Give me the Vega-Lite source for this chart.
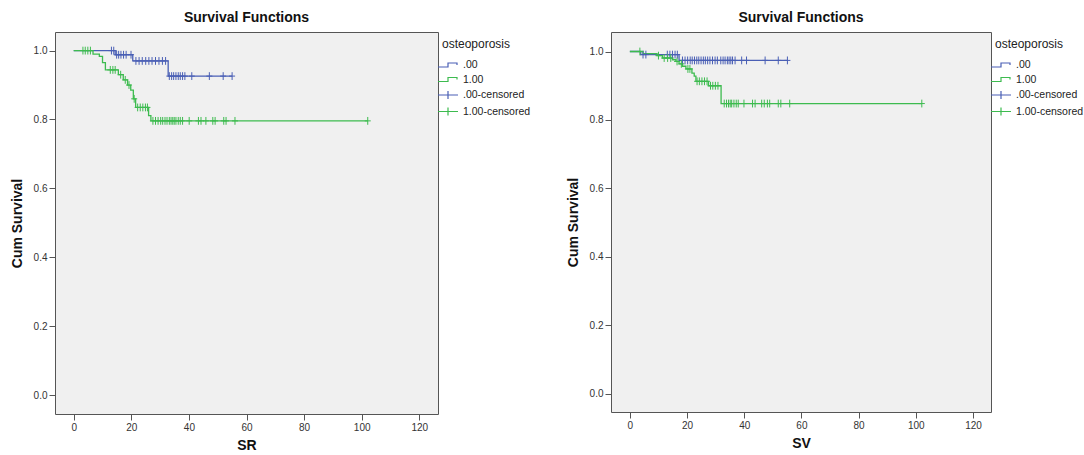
{
  "$schema": "https://vega.github.io/schema/vega-lite/v6.json",
  "padding": {"left": 9, "top": 10, "right": 0, "bottom": 5},
  "background": "white",
  "config": {
    "font": "Liberation Sans",
    "view": {"fill": "#f0f0f0", "stroke": "#555555", "strokeWidth": 1},
    "axis": {"domain": false, "grid": false, "tickColor": "#555555", "tickSize": 6, "labelPadding": 2, "labelColor": "#333333", "labelFont": "Liberation Sans", "labelFontSize": 10, "titleFont": "Liberation Sans", "titleFontSize": 14, "titleFontWeight": "bold", "titleColor": "#111111"},
    "title": {"font": "Liberation Sans", "fontSize": 14, "fontWeight": "bold", "color": "#111111", "offset": 7, "anchor": "middle"},
    "legend": {"titleFont": "Liberation Sans", "titleFontSize": 12, "titleFontWeight": "normal", "titleColor": "#222222", "labelFont": "Liberation Sans", "labelFontSize": 10.5, "labelColor": "#222222", "symbolSize": 100, "labelOffset": 9, "rowPadding": 2.5, "titlePadding": 8, "padding": 7, "offset": -3}
  },
  "datasets": {
    "km": [
      {"panel": "SR", "series": ".00", "t": 0, "s": 1.0},
      {"panel": "SR", "series": ".00", "t": 14.4, "s": 0.988},
      {"panel": "SR", "series": ".00", "t": 20.5, "s": 0.970},
      {"panel": "SR", "series": ".00", "t": 32.8, "s": 0.926},
      {"panel": "SR", "series": ".00", "t": 55.0, "s": 0.926},
      {"panel": "SR", "series": "1.00", "t": 0, "s": 1.0},
      {"panel": "SR", "series": "1.00", "t": 6.7, "s": 0.990},
      {"panel": "SR", "series": "1.00", "t": 8.9, "s": 0.983},
      {"panel": "SR", "series": "1.00", "t": 10.0, "s": 0.965},
      {"panel": "SR", "series": "1.00", "t": 11.0, "s": 0.944},
      {"panel": "SR", "series": "1.00", "t": 15.5, "s": 0.930},
      {"panel": "SR", "series": "1.00", "t": 17.2, "s": 0.915},
      {"panel": "SR", "series": "1.00", "t": 18.7, "s": 0.900},
      {"panel": "SR", "series": "1.00", "t": 19.8, "s": 0.885},
      {"panel": "SR", "series": "1.00", "t": 20.7, "s": 0.860},
      {"panel": "SR", "series": "1.00", "t": 21.5, "s": 0.835},
      {"panel": "SR", "series": "1.00", "t": 26.0, "s": 0.811},
      {"panel": "SR", "series": "1.00", "t": 26.8, "s": 0.796},
      {"panel": "SR", "series": "1.00", "t": 102.1, "s": 0.796},
      {"panel": "SV", "series": ".00", "t": 0, "s": 1.0},
      {"panel": "SV", "series": ".00", "t": 3.8, "s": 0.991},
      {"panel": "SV", "series": ".00", "t": 17.2, "s": 0.974},
      {"panel": "SV", "series": ".00", "t": 55.1, "s": 0.974},
      {"panel": "SV", "series": "1.00", "t": 0, "s": 1.0},
      {"panel": "SV", "series": "1.00", "t": 4.6, "s": 0.994},
      {"panel": "SV", "series": "1.00", "t": 9.5, "s": 0.988},
      {"panel": "SV", "series": "1.00", "t": 11.4, "s": 0.981},
      {"panel": "SV", "series": "1.00", "t": 14.9, "s": 0.976},
      {"panel": "SV", "series": "1.00", "t": 16.1, "s": 0.971},
      {"panel": "SV", "series": "1.00", "t": 17.2, "s": 0.964},
      {"panel": "SV", "series": "1.00", "t": 18.4, "s": 0.957},
      {"panel": "SV", "series": "1.00", "t": 19.6, "s": 0.949},
      {"panel": "SV", "series": "1.00", "t": 21.7, "s": 0.937},
      {"panel": "SV", "series": "1.00", "t": 22.5, "s": 0.928},
      {"panel": "SV", "series": "1.00", "t": 23.1, "s": 0.913},
      {"panel": "SV", "series": "1.00", "t": 27.5, "s": 0.900},
      {"panel": "SV", "series": "1.00", "t": 31.9, "s": 0.848},
      {"panel": "SV", "series": "1.00", "t": 102.1, "s": 0.848}
    ],
    "cens": [
      {"panel": "SR", "series": ".00-censored", "t": 13.1, "s": 1.0},
      {"panel": "SR", "series": ".00-censored", "t": 13.9, "s": 1.0},
      {"panel": "SR", "series": ".00-censored", "t": 14.9, "s": 0.988},
      {"panel": "SR", "series": ".00-censored", "t": 15.6, "s": 0.988},
      {"panel": "SR", "series": ".00-censored", "t": 16.4, "s": 0.988},
      {"panel": "SR", "series": ".00-censored", "t": 17.3, "s": 0.988},
      {"panel": "SR", "series": ".00-censored", "t": 18.2, "s": 0.988},
      {"panel": "SR", "series": ".00-censored", "t": 19.9, "s": 0.988},
      {"panel": "SR", "series": ".00-censored", "t": 21.6, "s": 0.970},
      {"panel": "SR", "series": ".00-censored", "t": 22.7, "s": 0.970},
      {"panel": "SR", "series": ".00-censored", "t": 23.8, "s": 0.970},
      {"panel": "SR", "series": ".00-censored", "t": 25.0, "s": 0.970},
      {"panel": "SR", "series": ".00-censored", "t": 26.1, "s": 0.970},
      {"panel": "SR", "series": ".00-censored", "t": 27.2, "s": 0.970},
      {"panel": "SR", "series": ".00-censored", "t": 28.4, "s": 0.970},
      {"panel": "SR", "series": ".00-censored", "t": 29.6, "s": 0.970},
      {"panel": "SR", "series": ".00-censored", "t": 30.8, "s": 0.970},
      {"panel": "SR", "series": ".00-censored", "t": 31.9, "s": 0.970},
      {"panel": "SR", "series": ".00-censored", "t": 33.2, "s": 0.926},
      {"panel": "SR", "series": ".00-censored", "t": 34.0, "s": 0.926},
      {"panel": "SR", "series": ".00-censored", "t": 34.7, "s": 0.926},
      {"panel": "SR", "series": ".00-censored", "t": 35.5, "s": 0.926},
      {"panel": "SR", "series": ".00-censored", "t": 36.3, "s": 0.926},
      {"panel": "SR", "series": ".00-censored", "t": 37.0, "s": 0.926},
      {"panel": "SR", "series": ".00-censored", "t": 37.8, "s": 0.926},
      {"panel": "SR", "series": ".00-censored", "t": 38.6, "s": 0.926},
      {"panel": "SR", "series": ".00-censored", "t": 41.0, "s": 0.926},
      {"panel": "SR", "series": ".00-censored", "t": 47.1, "s": 0.926},
      {"panel": "SR", "series": ".00-censored", "t": 51.9, "s": 0.926},
      {"panel": "SR", "series": ".00-censored", "t": 55.0, "s": 0.926},
      {"panel": "SR", "series": "1.00-censored", "t": 3.2, "s": 1.0},
      {"panel": "SR", "series": "1.00-censored", "t": 4.0, "s": 1.0},
      {"panel": "SR", "series": "1.00-censored", "t": 4.9, "s": 1.0},
      {"panel": "SR", "series": "1.00-censored", "t": 5.8, "s": 1.0},
      {"panel": "SR", "series": "1.00-censored", "t": 12.7, "s": 0.944},
      {"panel": "SR", "series": "1.00-censored", "t": 13.6, "s": 0.944},
      {"panel": "SR", "series": "1.00-censored", "t": 14.4, "s": 0.944},
      {"panel": "SR", "series": "1.00-censored", "t": 16.3, "s": 0.930},
      {"panel": "SR", "series": "1.00-censored", "t": 17.9, "s": 0.915},
      {"panel": "SR", "series": "1.00-censored", "t": 19.2, "s": 0.900},
      {"panel": "SR", "series": "1.00-censored", "t": 21.0, "s": 0.860},
      {"panel": "SR", "series": "1.00-censored", "t": 22.2, "s": 0.835},
      {"panel": "SR", "series": "1.00-censored", "t": 23.1, "s": 0.835},
      {"panel": "SR", "series": "1.00-censored", "t": 24.0, "s": 0.835},
      {"panel": "SR", "series": "1.00-censored", "t": 24.9, "s": 0.835},
      {"panel": "SR", "series": "1.00-censored", "t": 25.6, "s": 0.835},
      {"panel": "SR", "series": "1.00-censored", "t": 27.5, "s": 0.796},
      {"panel": "SR", "series": "1.00-censored", "t": 28.4, "s": 0.796},
      {"panel": "SR", "series": "1.00-censored", "t": 29.3, "s": 0.796},
      {"panel": "SR", "series": "1.00-censored", "t": 30.2, "s": 0.796},
      {"panel": "SR", "series": "1.00-censored", "t": 30.9, "s": 0.796},
      {"panel": "SR", "series": "1.00-censored", "t": 31.7, "s": 0.796},
      {"panel": "SR", "series": "1.00-censored", "t": 32.4, "s": 0.796},
      {"panel": "SR", "series": "1.00-censored", "t": 33.2, "s": 0.796},
      {"panel": "SR", "series": "1.00-censored", "t": 33.8, "s": 0.796},
      {"panel": "SR", "series": "1.00-censored", "t": 34.4, "s": 0.796},
      {"panel": "SR", "series": "1.00-censored", "t": 34.9, "s": 0.796},
      {"panel": "SR", "series": "1.00-censored", "t": 35.5, "s": 0.796},
      {"panel": "SR", "series": "1.00-censored", "t": 36.3, "s": 0.796},
      {"panel": "SR", "series": "1.00-censored", "t": 37.0, "s": 0.796},
      {"panel": "SR", "series": "1.00-censored", "t": 37.8, "s": 0.796},
      {"panel": "SR", "series": "1.00-censored", "t": 40.1, "s": 0.796},
      {"panel": "SR", "series": "1.00-censored", "t": 43.3, "s": 0.796},
      {"panel": "SR", "series": "1.00-censored", "t": 44.2, "s": 0.796},
      {"panel": "SR", "series": "1.00-censored", "t": 45.9, "s": 0.796},
      {"panel": "SR", "series": "1.00-censored", "t": 48.3, "s": 0.796},
      {"panel": "SR", "series": "1.00-censored", "t": 49.1, "s": 0.796},
      {"panel": "SR", "series": "1.00-censored", "t": 52.1, "s": 0.796},
      {"panel": "SR", "series": "1.00-censored", "t": 52.9, "s": 0.796},
      {"panel": "SR", "series": "1.00-censored", "t": 56.0, "s": 0.796},
      {"panel": "SR", "series": "1.00-censored", "t": 102.1, "s": 0.796},
      {"panel": "SV", "series": ".00-censored", "t": 4.6, "s": 0.991},
      {"panel": "SV", "series": ".00-censored", "t": 5.6, "s": 0.991},
      {"panel": "SV", "series": ".00-censored", "t": 13.1, "s": 0.991},
      {"panel": "SV", "series": ".00-censored", "t": 14.0, "s": 0.991},
      {"panel": "SV", "series": ".00-censored", "t": 14.9, "s": 0.991},
      {"panel": "SV", "series": ".00-censored", "t": 15.8, "s": 0.991},
      {"panel": "SV", "series": ".00-censored", "t": 16.6, "s": 0.991},
      {"panel": "SV", "series": ".00-censored", "t": 18.4, "s": 0.974},
      {"panel": "SV", "series": ".00-censored", "t": 19.3, "s": 0.974},
      {"panel": "SV", "series": ".00-censored", "t": 20.2, "s": 0.974},
      {"panel": "SV", "series": ".00-censored", "t": 21.1, "s": 0.974},
      {"panel": "SV", "series": ".00-censored", "t": 21.8, "s": 0.974},
      {"panel": "SV", "series": ".00-censored", "t": 22.6, "s": 0.974},
      {"panel": "SV", "series": ".00-censored", "t": 23.4, "s": 0.974},
      {"panel": "SV", "series": ".00-censored", "t": 24.1, "s": 0.974},
      {"panel": "SV", "series": ".00-censored", "t": 24.9, "s": 0.974},
      {"panel": "SV", "series": ".00-censored", "t": 25.7, "s": 0.974},
      {"panel": "SV", "series": ".00-censored", "t": 26.4, "s": 0.974},
      {"panel": "SV", "series": ".00-censored", "t": 27.2, "s": 0.974},
      {"panel": "SV", "series": ".00-censored", "t": 28.0, "s": 0.974},
      {"panel": "SV", "series": ".00-censored", "t": 28.9, "s": 0.974},
      {"panel": "SV", "series": ".00-censored", "t": 29.8, "s": 0.974},
      {"panel": "SV", "series": ".00-censored", "t": 30.6, "s": 0.974},
      {"panel": "SV", "series": ".00-censored", "t": 31.8, "s": 0.974},
      {"panel": "SV", "series": ".00-censored", "t": 32.6, "s": 0.974},
      {"panel": "SV", "series": ".00-censored", "t": 33.3, "s": 0.974},
      {"panel": "SV", "series": ".00-censored", "t": 34.1, "s": 0.974},
      {"panel": "SV", "series": ".00-censored", "t": 34.7, "s": 0.974},
      {"panel": "SV", "series": ".00-censored", "t": 35.3, "s": 0.974},
      {"panel": "SV", "series": ".00-censored", "t": 35.9, "s": 0.974},
      {"panel": "SV", "series": ".00-censored", "t": 36.8, "s": 0.974},
      {"panel": "SV", "series": ".00-censored", "t": 39.1, "s": 0.974},
      {"panel": "SV", "series": ".00-censored", "t": 40.8, "s": 0.974},
      {"panel": "SV", "series": ".00-censored", "t": 47.3, "s": 0.974},
      {"panel": "SV", "series": ".00-censored", "t": 51.9, "s": 0.974},
      {"panel": "SV", "series": ".00-censored", "t": 55.1, "s": 0.974},
      {"panel": "SV", "series": "1.00-censored", "t": 3.5, "s": 1.0},
      {"panel": "SV", "series": "1.00-censored", "t": 10.0, "s": 0.988},
      {"panel": "SV", "series": "1.00-censored", "t": 12.0, "s": 0.981},
      {"panel": "SV", "series": "1.00-censored", "t": 13.2, "s": 0.981},
      {"panel": "SV", "series": "1.00-censored", "t": 14.3, "s": 0.981},
      {"panel": "SV", "series": "1.00-censored", "t": 16.5, "s": 0.971},
      {"panel": "SV", "series": "1.00-censored", "t": 18.0, "s": 0.964},
      {"panel": "SV", "series": "1.00-censored", "t": 20.3, "s": 0.949},
      {"panel": "SV", "series": "1.00-censored", "t": 21.0, "s": 0.949},
      {"panel": "SV", "series": "1.00-censored", "t": 23.5, "s": 0.913},
      {"panel": "SV", "series": "1.00-censored", "t": 24.3, "s": 0.913},
      {"panel": "SV", "series": "1.00-censored", "t": 25.2, "s": 0.913},
      {"panel": "SV", "series": "1.00-censored", "t": 26.1, "s": 0.913},
      {"panel": "SV", "series": "1.00-censored", "t": 27.0, "s": 0.913},
      {"panel": "SV", "series": "1.00-censored", "t": 28.2, "s": 0.900},
      {"panel": "SV", "series": "1.00-censored", "t": 29.0, "s": 0.900},
      {"panel": "SV", "series": "1.00-censored", "t": 29.9, "s": 0.900},
      {"panel": "SV", "series": "1.00-censored", "t": 30.8, "s": 0.900},
      {"panel": "SV", "series": "1.00-censored", "t": 33.0, "s": 0.848},
      {"panel": "SV", "series": "1.00-censored", "t": 33.8, "s": 0.848},
      {"panel": "SV", "series": "1.00-censored", "t": 34.5, "s": 0.848},
      {"panel": "SV", "series": "1.00-censored", "t": 35.1, "s": 0.848},
      {"panel": "SV", "series": "1.00-censored", "t": 35.6, "s": 0.848},
      {"panel": "SV", "series": "1.00-censored", "t": 36.4, "s": 0.848},
      {"panel": "SV", "series": "1.00-censored", "t": 37.2, "s": 0.848},
      {"panel": "SV", "series": "1.00-censored", "t": 37.9, "s": 0.848},
      {"panel": "SV", "series": "1.00-censored", "t": 39.9, "s": 0.848},
      {"panel": "SV", "series": "1.00-censored", "t": 42.9, "s": 0.848},
      {"panel": "SV", "series": "1.00-censored", "t": 43.8, "s": 0.848},
      {"panel": "SV", "series": "1.00-censored", "t": 46.1, "s": 0.848},
      {"panel": "SV", "series": "1.00-censored", "t": 47.0, "s": 0.848},
      {"panel": "SV", "series": "1.00-censored", "t": 48.1, "s": 0.848},
      {"panel": "SV", "series": "1.00-censored", "t": 48.9, "s": 0.848},
      {"panel": "SV", "series": "1.00-censored", "t": 51.9, "s": 0.848},
      {"panel": "SV", "series": "1.00-censored", "t": 52.8, "s": 0.848},
      {"panel": "SV", "series": "1.00-censored", "t": 55.9, "s": 0.848},
      {"panel": "SV", "series": "1.00-censored", "t": 102.1, "s": 0.848}
    ]
  },
  "resolve": {"scale": {"color": "independent"}},
  "spacing": 26,
  "hconcat": [
    {
      "title": "Survival Functions",
      "width": 383,
      "height": 382,
      "layer": [
        {
          "data": {"name": "km"},
          "transform": [{"filter": {"field": "panel", "equal": "SR"}}],
          "mark": {"type": "line", "interpolate": "step-after", "strokeWidth": 1.3},
          "encoding": {
            "x": {"field": "t", "type": "quantitative", "title": "SR", "scale": {"domain": [-6.5, 126.5], "nice": false, "zero": false}, "axis": {"values": [0, 20, 40, 60, 80, 100, 120], "titlePadding": 6}},
            "y": {"field": "s", "type": "quantitative", "title": "Cum Survival", "scale": {"domain": [-0.055, 1.054], "nice": false, "zero": false}, "axis": {"values": [0, 0.2, 0.4, 0.6, 0.8, 1.0], "format": ".1f", "titlePadding": 9}},
            "color": {"field": "series", "type": "nominal", "scale": {"domain": [".00", "1.00", ".00-censored", "1.00-censored"], "range": ["#4a5fb5", "#3dbb4f", "#4a5fb5", "#3dbb4f"]},
              "legend": {"title": "osteoporosis", "encode": {"symbols": {"update": {"shape": {"signal": "indexof(datum.value, 'censored') >= 0 ? 'M-2,0H2M0,-0.8V0.8' : 'M-2,0.4H0V-0.4H1.8V0'"}, "fill": {"value": "transparent"}, "stroke": {"signal": "indexof(datum.value, '1.00') === 0 ? '#3dbb4f' : '#4a5fb5'"}, "strokeWidth": {"value": 1.2}, "opacity": {"value": 1}}}}}}
          }
        },
        {
          "data": {"name": "cens"},
          "transform": [{"filter": {"field": "panel", "equal": "SR"}}],
          "mark": {"type": "point", "shape": "M-1,0H1M0,-1.3V1.3", "filled": false, "size": 36, "strokeWidth": 1, "opacity": 1},
          "encoding": {
            "x": {"field": "t", "type": "quantitative"},
            "y": {"field": "s", "type": "quantitative"},
            "color": {"field": "series", "type": "nominal"}
          }
        }
      ]
    },
    {
      "title": "Survival Functions",
      "width": 380,
      "height": 380,
      "layer": [
        {
          "data": {"name": "km"},
          "transform": [{"filter": {"field": "panel", "equal": "SV"}}],
          "mark": {"type": "line", "interpolate": "step-after", "strokeWidth": 1.3},
          "encoding": {
            "x": {"field": "t", "type": "quantitative", "title": "SV", "scale": {"domain": [-6.6, 126.3], "nice": false, "zero": false}, "axis": {"values": [0, 20, 40, 60, 80, 100, 120], "titlePadding": 6}},
            "y": {"field": "s", "type": "quantitative", "title": "Cum Survival", "scale": {"domain": [-0.053, 1.057], "nice": false, "zero": false}, "axis": {"values": [0, 0.2, 0.4, 0.6, 0.8, 1.0], "format": ".1f", "titlePadding": 9}},
            "color": {"field": "series", "type": "nominal", "scale": {"domain": [".00", "1.00", ".00-censored", "1.00-censored"], "range": ["#4a5fb5", "#3dbb4f", "#4a5fb5", "#3dbb4f"]},
              "legend": {"title": "osteoporosis", "encode": {"symbols": {"update": {"shape": {"signal": "indexof(datum.value, 'censored') >= 0 ? 'M-2,0H2M0,-0.8V0.8' : 'M-2,0.4H0V-0.4H1.8V0'"}, "fill": {"value": "transparent"}, "stroke": {"signal": "indexof(datum.value, '1.00') === 0 ? '#3dbb4f' : '#4a5fb5'"}, "strokeWidth": {"value": 1.2}, "opacity": {"value": 1}}}}}}
          }
        },
        {
          "data": {"name": "cens"},
          "transform": [{"filter": {"field": "panel", "equal": "SV"}}],
          "mark": {"type": "point", "shape": "M-1,0H1M0,-1.3V1.3", "filled": false, "size": 36, "strokeWidth": 1, "opacity": 1},
          "encoding": {
            "x": {"field": "t", "type": "quantitative"},
            "y": {"field": "s", "type": "quantitative"},
            "color": {"field": "series", "type": "nominal"}
          }
        }
      ]
    }
  ]
}
